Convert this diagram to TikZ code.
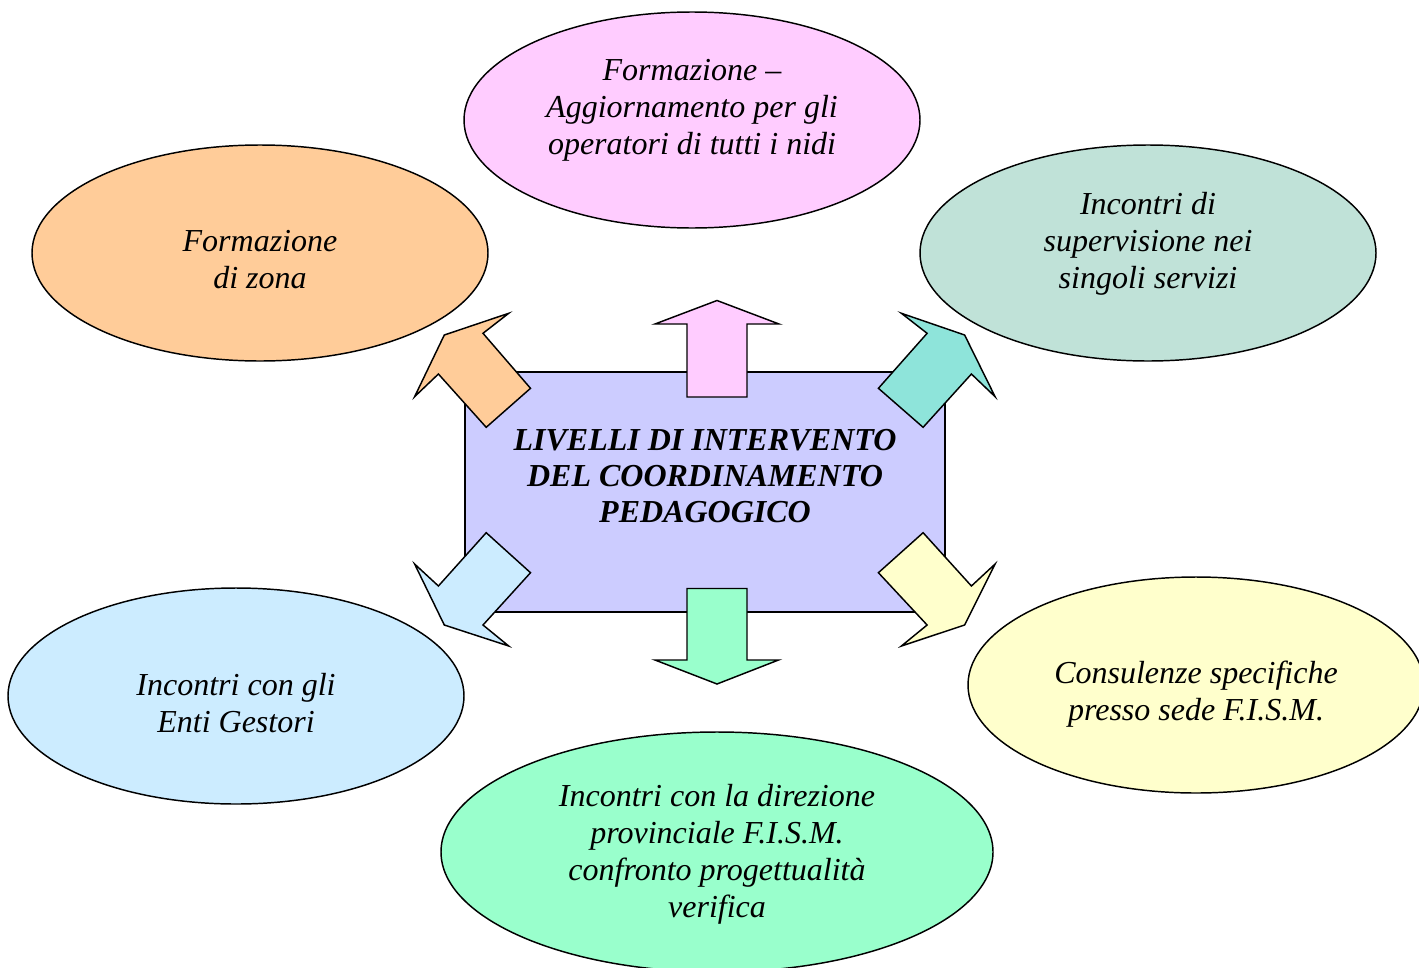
\documentclass[tikz,border=0pt]{standalone}
\usepackage{fontspec}
\setmainfont{Liberation Serif}
\usetikzlibrary{shapes.geometric}
\definecolor{cPink}{HTML}{FFCCFF}
\definecolor{cOrange}{HTML}{FFCC99}
\definecolor{cTealE}{HTML}{C0E2D8}
\definecolor{cTealA}{HTML}{8EE4DA}
\definecolor{cBlue}{HTML}{CCECFF}
\definecolor{cYellow}{HTML}{FFFFCC}
\definecolor{cGreen}{HTML}{99FFCC}
\definecolor{cRect}{HTML}{CCCCFF}
\tikzset{
  oval/.style={ellipse, draw=black, line width=1.1pt, inner sep=0pt,
    minimum width=342pt, minimum height=162pt},
  ovaltext/.style={align=center, inner sep=0pt,
    font=\fontsize{24}{27.75}\selectfont\itshape},
  blockarrow/.style={draw=black, line width=1.1pt, line join=miter},
}
\begin{document}
\begin{tikzpicture}[x=0.75pt, y=-0.75pt]
\clip (0,0) rectangle (1419,967);
\useasboundingbox (0,0) rectangle (1419,967);
% ellipses
\node[oval, fill=cPink] (top) at (692,120) {};
\node[oval, fill=cOrange] (zona) at (260,253) {};
\node[oval, fill=cTealE] (sup) at (1148,253) {};
\node[oval, fill=cBlue] (enti) at (236,696) {};
\node[oval, fill=cYellow] (cons) at (1196,685) {};
\node[oval, fill=cGreen, minimum width=414pt, minimum height=180pt] (dir) at (717,852) {};
% ellipse texts
\node[ovaltext] (topT) at (692,110.5) {Formazione –\\Aggiornamento per gli\\operatori di tutti i nidi};
\node[ovaltext] (zonaT) at (260,259.5) {Formazione\\di zona};
\node[ovaltext] (supT) at (1148,243.5) {Incontri di\\supervisione nei\\singoli servizi};
\node[ovaltext] (entiT) at (236,703) {Incontri con gli\\Enti Gestori};
\node[ovaltext] (consT) at (1196,694) {Consulenze specifiche\\presso sede F.I.S.M.};
\node[ovaltext] (dirT) at (717,854) {Incontri con la direzione\\provinciale F.I.S.M.\\confronto progettualità\\verifica};
% centre rectangle
\node[draw=black, line width=1.1pt, fill=cRect, minimum width=360pt, minimum height=180pt,
  inner sep=0pt] (centre) at (705,492) {};
% block arrows
\draw[blockarrow, fill=cPink] (687,397) -- (687,324) -- (655,324) -- (717,300.5) -- (779,324) -- (747,324) -- (747,397) -- cycle;
\draw[blockarrow, fill=cGreen] (687,588.5) -- (747,588.5) -- (747,660) -- (778.5,660) -- (717,684) -- (655,660) -- (687,660) -- cycle;
\draw[blockarrow, fill=cOrange] (444.3,335) -- (508.7,313.3) -- (483,333.3) -- (530.5,388.3) -- (486.2,427.3) -- (438.4,374) -- (414.6,396.7) -- cycle;
\draw[blockarrow, fill=cTealA] (964.6,335) -- (901.4,313.3) -- (927.1,333.3) -- (878.4,388.3) -- (923.1,427.3) -- (971.4,374) -- (995.1,396.7) -- cycle;
\draw[blockarrow, fill=cBlue] (444.3,625) -- (508.7,646) -- (483,625) -- (530.5,572.7) -- (486.2,532.7) -- (438.4,586) -- (414.6,564) -- cycle;
\draw[blockarrow, fill=cYellow] (964.6,625) -- (901.4,646) -- (927.1,625) -- (878.4,572.7) -- (923.1,532.7) -- (971.4,586) -- (995.1,564) -- cycle;
% centre text
\node[align=center, font=\fontsize{24}{27}\selectfont\bfseries\itshape] (title) at (705,476)
  {LIVELLI DI INTERVENTO\\DEL COORDINAMENTO\\PEDAGOGICO};
\end{tikzpicture}
\end{document}
